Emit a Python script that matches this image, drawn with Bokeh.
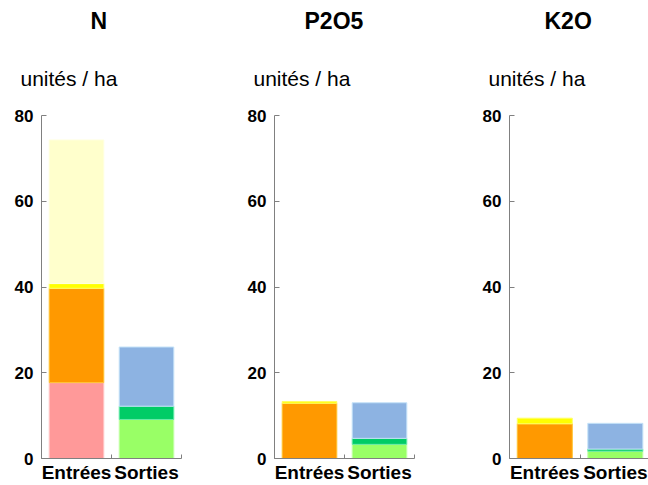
from bokeh.plotting import figure
from bokeh.layouts import row
from bokeh.models import Title, FixedTicker, Range1d
from bokeh.embed import file_html
from bokeh.resources import INLINE

# ---------------- data ----------------
nutrients = ["N", "P2O5", "K2O"]
categories = ["Entrées", "Sorties"]
y_ticks = [0, 20, 40, 60, 80]
unit_label = "unités / ha"

# Entrées components, bottom to top (one value per nutrient)
entrees_rose = [17.7, 0.0, 0.0]
entrees_orange = [22.0, 12.9, 8.1]
entrees_jaune = [1.1, 0.4, 1.3]
entrees_jaune_pale = [33.5, 0.0, 0.0]

# Sorties components, bottom to top
sorties_vert_clair = [9.1, 3.3, 1.7]
sorties_vert = [3.1, 1.4, 0.5]
sorties_bleu = [13.8, 8.3, 6.0]

# ---------------- styles ----------------
entrees_series = [entrees_rose, entrees_orange, entrees_jaune, entrees_jaune_pale]
entrees_fill = ["#FF9999", "#FF9900", "#FFFF00", "#FFFFCC"]
entrees_line = ["#FFC8C8", "#FFC433", "#FFFF66", "#FFFFE0"]
sorties_series = [sorties_vert_clair, sorties_vert, sorties_bleu]
sorties_fill = ["#99FF66", "#00CC66", "#8DB3E2"]
sorties_line = ["#C4FFA8", "#66EAA8", "#C4E2F8"]

FONT = "Liberation Sans"
AXIS_GREY = "#808080"
fig_widths = [241, 235, 172]
left_borders = [41, 33, 33]
right_borders = [60, 62, 0]
x_ends = [len(categories), len(categories), 1.97]
title_offsets = [49, 30, 35]
BAR_W = 0.78
FIG_H = 485


def stacked(p, series_list, fills, lines, cat_index, k):
    x = cat_index + 0.5
    bottom = 0.0
    for vals, fc, lc in zip(series_list, fills, lines):
        v = vals[k]
        if v > 0:
            p.vbar(x=[x], bottom=[bottom], top=[bottom + v], width=BAR_W,
                   fill_color=fc, line_color=lc, line_width=1)
        bottom += v


figs = []
for k, name in enumerate(nutrients):
    p = figure(width=fig_widths[k], height=FIG_H, output_backend="svg",
               toolbar_location=None, tools="",
               x_range=Range1d(0, x_ends[k]), y_range=Range1d(0, 80),
               min_border_left=left_borders[k], min_border_right=right_borders[k],
               min_border_top=0, min_border_bottom=0)
    p.outline_line_color = None
    p.xgrid.visible = False
    p.ygrid.visible = False
    p.background_fill_color = "white"
    p.border_fill_color = "white"

    stacked(p, entrees_series, entrees_fill, entrees_line, 0, k)
    stacked(p, sorties_series, sorties_fill, sorties_line, 1, k)

    # y axis
    ya = p.yaxis[0]
    ya.ticker = FixedTicker(ticks=y_ticks, minor_ticks=[])
    ya.axis_line_color = AXIS_GREY
    ya.major_tick_line_color = AXIS_GREY
    ya.major_tick_in = 5
    ya.major_tick_out = 0
    ya.minor_tick_line_color = None
    ya.major_label_standoff = 8
    ya.major_label_text_font = FONT
    ya.major_label_text_font_style = "bold"
    ya.major_label_text_font_size = "17px"
    ya.major_label_text_color = "black"

    # x axis: labels at category centres, ticks at category boundaries
    xa = p.xaxis[0]
    centres = [i + 0.5 for i in range(len(categories))]
    bounds = [float(i) for i in range(len(categories) + 1)]
    xa.ticker = FixedTicker(ticks=centres, minor_ticks=bounds)
    xa.major_label_overrides = {c: lab for c, lab in zip(centres, categories)}
    xa.axis_line_color = AXIS_GREY
    xa.major_tick_line_color = None
    xa.major_tick_in = 0
    xa.major_tick_out = 0
    xa.minor_tick_line_color = AXIS_GREY
    xa.minor_tick_in = 4
    xa.minor_tick_out = 0
    xa.major_label_standoff = 3
    xa.major_label_text_font = FONT
    xa.major_label_text_font_style = "bold"
    xa.major_label_text_font_size = "19px"
    xa.major_label_text_color = "black"

    # titles
    t_unit = Title(text=unit_label, align="left", offset=-21, standoff=52,
                   text_font=FONT, text_font_size="21px",
                   text_font_style="normal", text_color="black")
    p.add_layout(t_unit, "above")
    t_name = Title(text=name, align="left", offset=title_offsets[k], standoff=10,
                   text_font=FONT, text_font_size="23px",
                   text_font_style="bold", text_color="black")
    p.add_layout(t_name, "above")
    figs.append(p)

layout = row(*figs)
open("out.html", "w").write(file_html(layout, INLINE))
